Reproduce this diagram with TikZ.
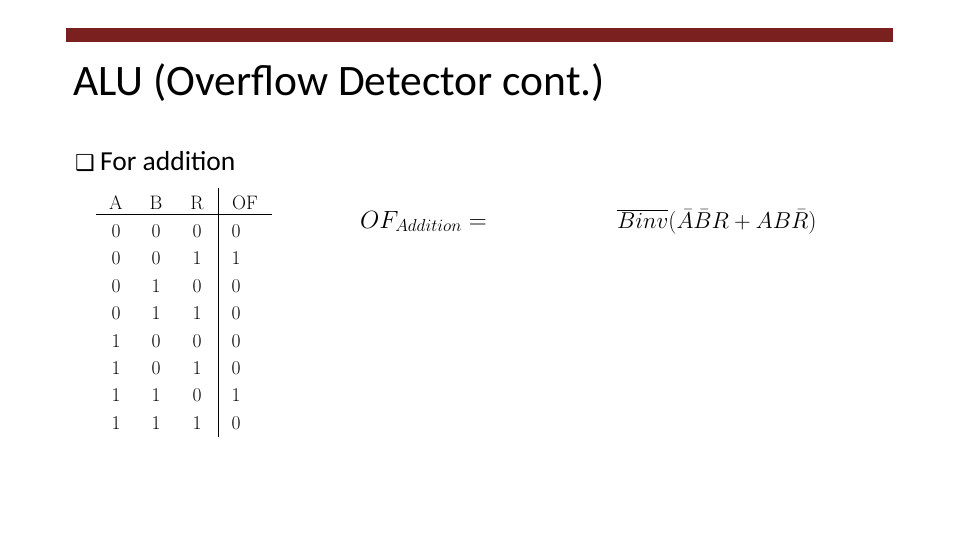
\documentclass[tikz,border=0pt]{standalone}
\usepackage{fontspec}
\newfontfamily\calfont{Carlito}
\newfontfamily\djfont{DejaVu Sans}
\begin{document}
\begin{tikzpicture}[x=1pt,y=-1pt,
  cell/.style={inner sep=0pt,anchor=base,font=\fontsize{19.5}{19.5}\selectfont},
  rulel/.style={line width=0.8pt}]
\useasboundingbox[fill=white] (0,0) rectangle (960,540);
\fill[fill={rgb,255:red,122;green,32;blue,30}] (66,28) rectangle (893,42);
\node[anchor=base west,inner sep=0pt,font=\calfont\fontsize{43.5}{43.5}\selectfont] (title) at (73,96) {ALU (Overflow Detector cont.)};
\node[anchor=base west,inner sep=0pt,font=\djfont\fontsize{22}{22}\selectfont] (bul) at (75,171) {❑};
\node[anchor=base west,inner sep=0pt,font=\calfont\fontsize{27.5}{27.5}\selectfont] (txt) at (100,171) {For addition};
\foreach \h/\x in {A/116,B/156,R/197,OF/245}
  \node[cell] (h\h) at (\x,209) {\h};
\foreach \a/\b/\r/\o [count=\i] in {0/0/0/0,0/0/1/1,0/1/0/0,0/1/1/0,1/0/0/0,1/0/1/0,1/1/0/1,1/1/1/0}{
  \pgfmathsetmacro\yy{237.5+27.4*(\i-1)}
  \node[cell] (a\i) at (116,\yy) {\a};
  \node[cell] (b\i) at (156,\yy) {\b};
  \node[cell] (r\i) at (197,\yy) {\r};
  \node[cell] (o\i) at (236,\yy) {\o};
}
\draw[rulel] (96,214) -- (272,214);
\draw[rulel] (218,188) -- (218,437);
\node[anchor=base west,inner sep=0pt,font=\fontsize{23}{23}\selectfont] (lhs) at (360,228) {$OF_{Addition}=$};
\node[anchor=base west,inner sep=0pt,font=\fontsize{20}{20}\selectfont,scale=1.11] (rhs) at (617,228) {$\overline{Binv}(\bar A\bar BR+AB\bar R)$};
\end{tikzpicture}
\end{document}
